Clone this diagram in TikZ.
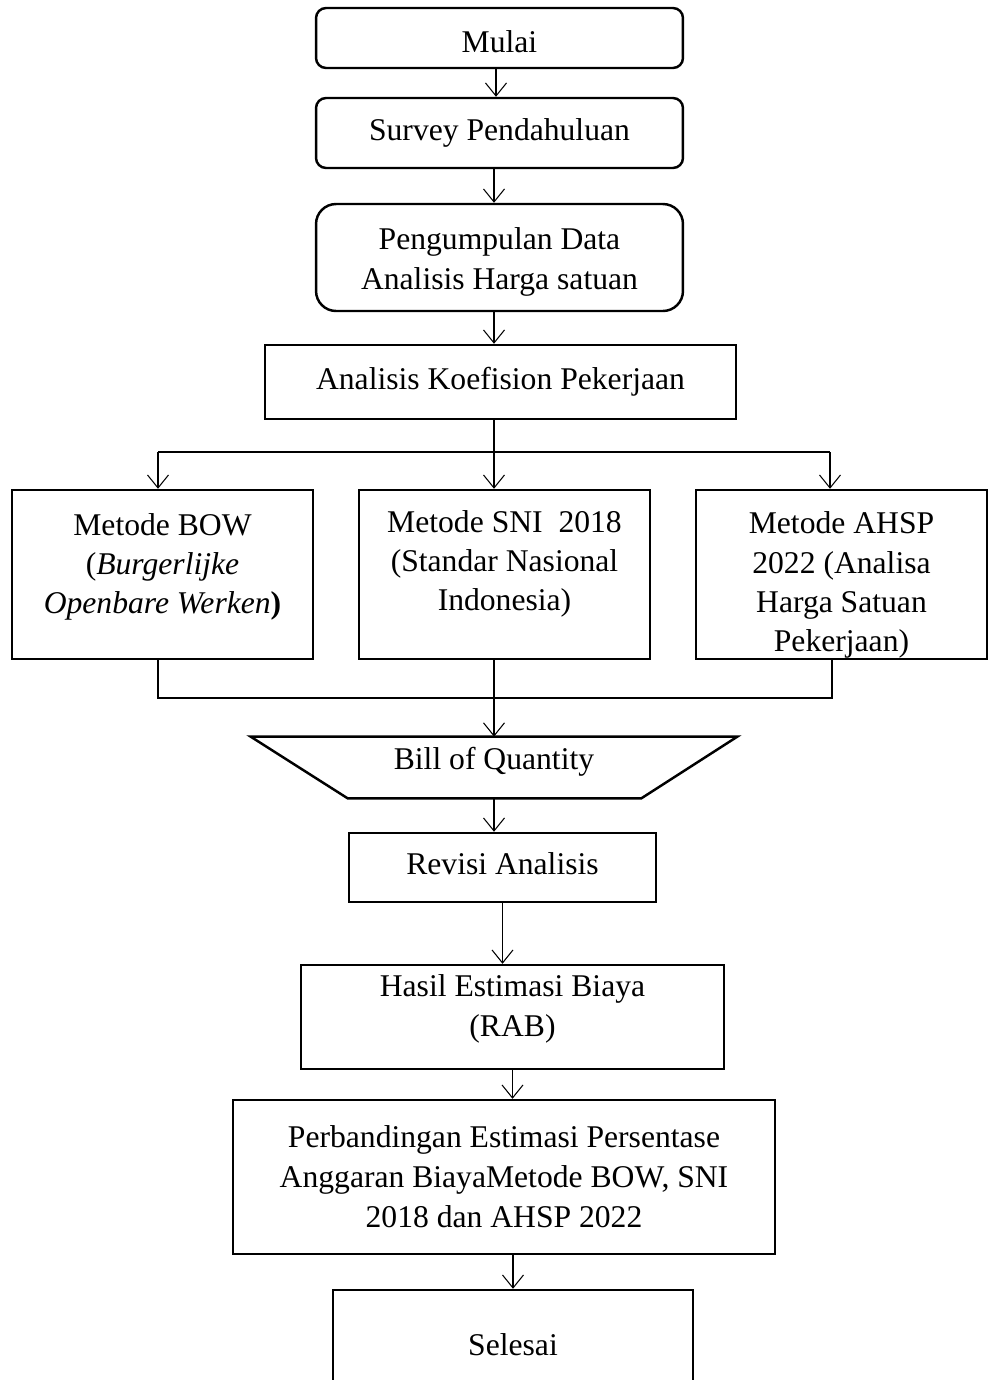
\documentclass[tikz,border=0pt]{standalone}
\usepackage{fontspec}
\setmainfont{Liberation Serif}
\usetikzlibrary{arrows.meta}

\begin{document}
\begin{tikzpicture}[x=0.02cm, y=-0.02cm,
	box/.style={draw, line width=1.4pt, align=center, inner sep=0pt, font=\fontsize{18}{22.8}\selectfont},
	roundbox/.style={box, rounded corners=0.2cm},
	txt/.style={align=center, inner sep=0pt, font=\fontsize{18}{22.3}\selectfont},
	conn/.style={line width=0.6pt, -{Straight Barb[length=0.26cm, width=0.42cm, line width=0.6pt]}}]
					\useasboundingbox (0,0) rectangle (988,1380);
					
					\node[roundbox, minimum width=7.34cm, minimum height=1.2cm] (mulai) at (499.5,38) {};
					\node[txt] (mulaitxt) at (499.5,42) {Mulai};
					\node[roundbox, minimum width=7.34cm, minimum height=1.4cm] (survey) at (499.5,133) {Survey Pendahuluan};
					\node[roundbox, rounded corners=0.4cm, minimum width=7.34cm, minimum height=2.14cm] (kumpul) at (499.5,257.5) {};
					\node[txt, font=\fontsize{18}{22.8}\selectfont] (kumpultxt) at (499.5,262) {Pengumpulan Data\\Analisis Harga satuan};
					\node[box, minimum width=9.42cm, minimum height=1.48cm] (koef) at (500.5,382) {Analisis Koefision Pekerjaan};
					
					% tiga metode
					\node[box, minimum width=6.02cm, minimum height=3.38cm] (bow) at (162.5,574.5) {};
					\node[box, minimum width=5.82cm, minimum height=3.38cm] (sni) at (504.5,574.5) {};
					\node[box, minimum width=5.82cm, minimum height=3.38cm] (ahsp) at (841.5,574.5) {};
					\node[txt] (bowtxt) at (162.5,567) {Metode BOW\\(\textit{Burgerlijke}\\\textit{Openbare Werken}\textbf{)}};
					\node[txt] (snitxt) at (504.5,564) {Metode SNI\ \ 2018\\(Standar Nasional\\Indonesia)};
					\node[txt] (ahsptxt) at (841.5,585) {Metode AHSP\\2022 (Analisa\\Harga Satuan\\Pekerjaan)};
					
					\node[minimum width=9.72cm, minimum height=1.22cm] (boq) at (494,767.5) {};
					\node[txt] (boqtxt) at (494,762) {Bill of Quantity};
					\draw[line width=1.4pt] (boq.north west) -- (boq.north east) -- ([xshift=-1.92cm]boq.south east) -- ([xshift=1.94cm]boq.south west) -- cycle;
					
					\node[box, minimum width=6.14cm, minimum height=1.38cm] (revisi) at (502.5,867.5) {};
					\node[txt] (revisitxt) at (502.5,864) {Revisi Analisis};
					\node[box, minimum width=8.46cm, minimum height=2.08cm] (hasil) at (512.5,1017) {};
					\node[txt, font=\fontsize{18}{22.8}\selectfont] (hasiltxt) at (512.5,1009) {Hasil Estimasi Biaya\\(RAB)};
					\node[box, minimum width=10.84cm, minimum height=3.08cm] (banding) at (504,1177) {Perbandingan Estimasi Persentase\\Anggaran BiayaMetode BOW, SNI\\2018 dan AHSP 2022};
					\node[box, minimum width=7.2cm, minimum height=2.2cm] (selesai) at (513,1345) {Selesai};
					
					% percabangan
					\coordinate (cl) at (158,452);
					\coordinate (cm) at (494,452);
					\coordinate (cr) at (830,452);
					\coordinate (ml) at (158,698);
					\coordinate (mr) at (832,698);
					
					\draw[conn] (mulai.south -| 496,0) -- (survey.north -| 496,0);
					\draw[conn] (survey.south -| cm) -- (cm |- kumpul.north);
					\draw[conn] (kumpul.south -| cm) -- (cm |- koef.north);
					\draw[line width=0.6pt] (koef.south -| cm) -- (cm);
					\draw[line width=0.6pt] (cl) -- (cr);
					\draw[conn] (cl) -- (cl |- bow.north);
					\draw[conn] (cm) -- (cm |- sni.north);
					\draw[conn] (cr) -- (cr |- ahsp.north);
					\draw[line width=0.6pt] (ml |- bow.south) -- (ml) -- (mr) -- (mr |- ahsp.south);
					\draw[conn] (boq.north |- sni.south) -- (boq.north);
					\draw[conn] (boq.south) -- (boq.south |- revisi.north);
					\draw[conn] (revisi.south) -- (revisi.south |- hasil.north);
					\draw[conn] (hasil.south) -- (hasil.south |- banding.north);
					\draw[conn] (selesai.north |- banding.south) -- (selesai.north);
				\end{tikzpicture}
\end{document}
